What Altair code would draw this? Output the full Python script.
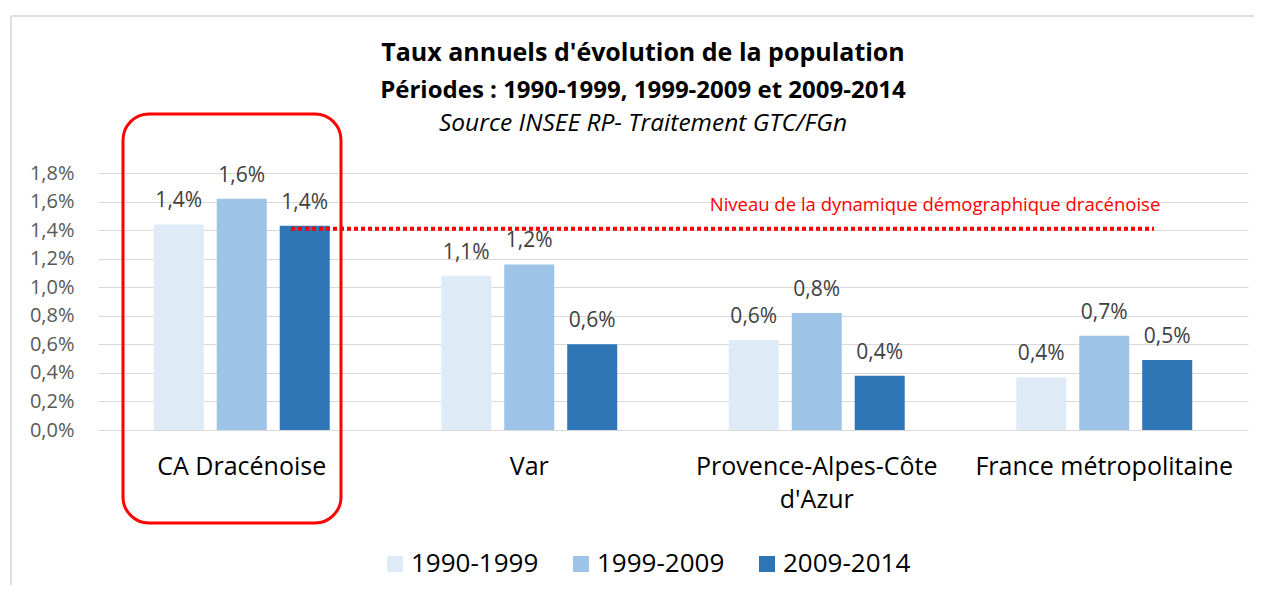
import altair as alt
import pandas as pd

# ---- data ----
categories = ["CA Dracénoise", "Var", "Provence-Alpes-Côte\nd'Azur", "France métropolitaine"]
periods = ["1990-1999", "1999-2009", "2009-2014"]
values_1990_1999 = [1.44, 1.08, 0.63, 0.37]
values_1999_2009 = [1.62, 1.16, 0.82, 0.66]
values_2009_2014 = [1.43, 0.60, 0.38, 0.49]
y_ticks = [0.0, 0.2, 0.4, 0.6, 0.8, 1.0, 1.2, 1.4, 1.6, 1.8]
reference_level = [1.41]
reference_text = ["Niveau de la dynamique démographique dracénoise"]
title_lines = [
    "Taux annuels d'évolution de la population",
    "Périodes : 1990-1999, 1999-2009 et 2009-2014",
    "Source INSEE RP- Traitement GTC/FGn",
]
colors = ["#DEEBF7", "#9DC3E6", "#2E75B6"]

rows = []
for p, vals in zip(periods, [values_1990_1999, values_1999_2009, values_2009_2014]):
    for c, v in zip(categories, vals):
        rows.append({"cat": c, "period": p, "value": v})
df = pd.DataFrame(rows)

FONT = "Open Sans"
W, H = 1150, 257

pct_expr = "replace(format(datum.value, '.1f'), '.', ',') + '%'"


def y_axis():
    return alt.Axis(title=None, values=y_ticks, tickCount=50,
                    labelExpr=pct_expr, labelOverlap=False, grid=True,
                    gridColor="#d9d9d9", labelFontSize=20, labelColor="#595959",
                    labelPadding=24, labelFont=FONT)


y_scale = alt.Scale(domain=[0, 1.8], nice=False)

x_enc = alt.X(
    "cat:N", sort=categories,
    scale=alt.Scale(domain=categories, paddingInner=0.388, paddingOuter=0.194),
    axis=alt.Axis(title=None, labelExpr="split(datum.label, '\\n')", labelAngle=0,
                  labelLimit=500, labelOverlap=False),
)
xoff_enc = alt.XOffset(
    "period:N", sort=periods,
    scale=alt.Scale(domain=periods, paddingInner=0.206, paddingOuter=0),
)

base = alt.Chart(df)

bars = base.mark_bar().encode(
    x=x_enc,
    xOffset=xoff_enc,
    y=alt.Y("value:Q", scale=y_scale, axis=y_axis()),
    color=alt.Color(
        "period:N",
        scale=alt.Scale(domain=periods, range=colors),
        legend=alt.Legend(
            title=None, orient="none", legendX=284, legendY=378,
            direction="horizontal", symbolType="square", symbolSize=256,
            symbolStrokeWidth=0, labelFontSize=26, labelFont=FONT,
            labelColor="#000000", labelOffset=3, columnPadding=29, padding=0,
            labelLimit=300,
        ),
    ),
)

labels = base.transform_calculate(
    label="replace(format(datum.value, '.1f'), '.', ',') + '%'"
).mark_text(
    font=FONT, fontSize=21, color="#404040", baseline="bottom", dy=-13
).encode(
    x=alt.X("cat:N", sort=categories),
    xOffset=alt.XOffset("period:N", sort=periods),
    y=alt.Y("value:Q", scale=y_scale, axis=y_axis()),
    text="label:N",
)

one = pd.DataFrame({"a": [0]})

# chart frame (top and left border of the original chart area)
frame_top = alt.Chart(one).mark_rule(color="#d4d4d4", strokeWidth=1.5).encode(
    x=alt.value(-87), x2=alt.value(1156), y=alt.value(-157)
)
frame_left = alt.Chart(one).mark_rule(color="#d4d4d4", strokeWidth=1.5).encode(
    x=alt.value(-87), y=alt.value(-157), y2=alt.value(412)
)

t_df = pd.DataFrame({"t": title_lines, "i": [0, 1, 2]})
title1 = alt.Chart(t_df).transform_filter("datum.i == 0").mark_text(
    font=FONT, fontSize=25, fontWeight="bold", color="#000000", baseline="middle"
).encode(x=alt.value(545), y=alt.value(-120), text="t:N")
title2 = alt.Chart(t_df).transform_filter("datum.i == 1").mark_text(
    font=FONT, fontSize=24, fontWeight="bold", color="#000000", baseline="middle"
).encode(x=alt.value(545), y=alt.value(-82), text="t:N")
title3 = alt.Chart(t_df).transform_filter("datum.i == 2").mark_text(
    font=FONT, fontSize=24.5, fontStyle="italic", color="#000000", baseline="middle"
).encode(x=alt.value(545), y=alt.value(-49), text="t:N")

red_box = alt.Chart(one).mark_rect(
    fillOpacity=0, stroke="#ff0000", strokeWidth=3, cornerRadius=26
).encode(x=alt.value(25), x2=alt.value(243), y=alt.value(-59), y2=alt.value(350))

ref_rule = alt.Chart(pd.DataFrame({"level": reference_level})).mark_rule(
    color="#ff0000", strokeWidth=4, strokeDash=[4, 3]
).encode(y=alt.Y("level:Q", scale=y_scale, axis=y_axis()), x=alt.value(193), x2=alt.value(1056))

ref_text = alt.Chart(pd.DataFrame({"t": reference_text})).mark_text(
    font=FONT, fontSize=18.5, color="#ff0000", baseline="middle"
).encode(x=alt.value(837), y=alt.value(32), text="t:N")

chart = alt.layer(
    frame_top, frame_left, title1, title2, title3, bars, labels, red_box, ref_rule, ref_text
).properties(
    width=W, height=H, padding={"left": 2, "top": 7, "right": 0, "bottom": 0}
).configure_view(stroke=None).configure_axis(
    domain=False, ticks=False, labelFont=FONT, gridColor="#d9d9d9", gridWidth=1
).configure_axisX(
    labelFontSize=25, labelColor="#000000", labelPadding=24, labelLineHeight=33, grid=False
)

chart.save("out.html", embed_options={"renderer": "svg", "actions": False})
